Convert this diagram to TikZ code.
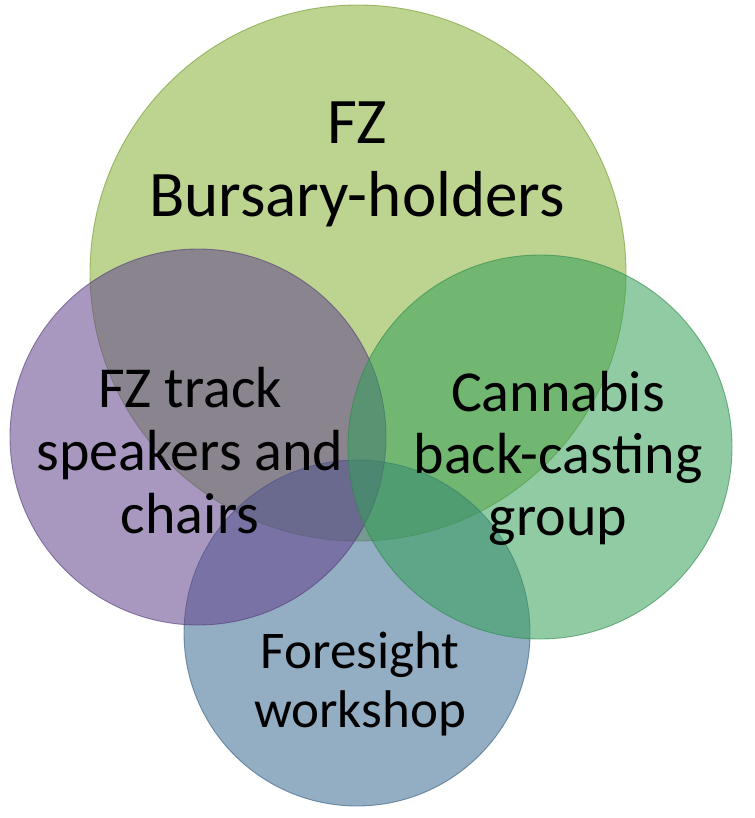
\documentclass[tikz,border=0pt]{standalone}
\usepackage{fontspec}
\setmainfont{Carlito}
\definecolor{cgreen}{RGB}{133,177,53}
\definecolor{cpurple}{RGB}{97,68,140}
\definecolor{cteal}{RGB}{53,160,90}
\definecolor{cblue}{RGB}{59,106,146}
\begin{document}
\begin{tikzpicture}[x=1pt,y=-1pt,
  venn/.style={circle, minimum size=#1, inner sep=0pt, fill opacity=0.55, draw opacity=0.6, line width=0.9pt},
  lbl/.style={align=center, text=black, inner sep=0pt, anchor=base}]
\useasboundingbox (0,0) rectangle (754,818);
\node[venn=536pt, fill=cgreen, draw=cgreen!85!black] (green) at (358,273) {};
\node[venn=346pt, fill=cblue, draw=cblue!85!black] (blue) at (357,633) {};
\node[venn=376pt, fill=cpurple, draw=cpurple!85!black] (purple) at (198,437) {};
\node[venn=384pt, fill=cteal, draw=cteal!85!black] (teal) at (540,447) {};
\node[lbl, font=\fontsize{65}{72}\selectfont] (tgreen) at (357,216) {FZ\\Bursary-holders};
\node[lbl, font=\fontsize{58}{63}\selectfont] (tpurple) at (190,533) {FZ track\\speakers and\\chairs};
\node[lbl, font=\fontsize{58}{62}\selectfont] (tteal) at (558,535) {Cannabis\\back-casting\\group};
\node[lbl, font=\fontsize{53}{59}\selectfont] (tblue) at (360,727) {Foresight\\workshop};
\end{tikzpicture}
\end{document}
